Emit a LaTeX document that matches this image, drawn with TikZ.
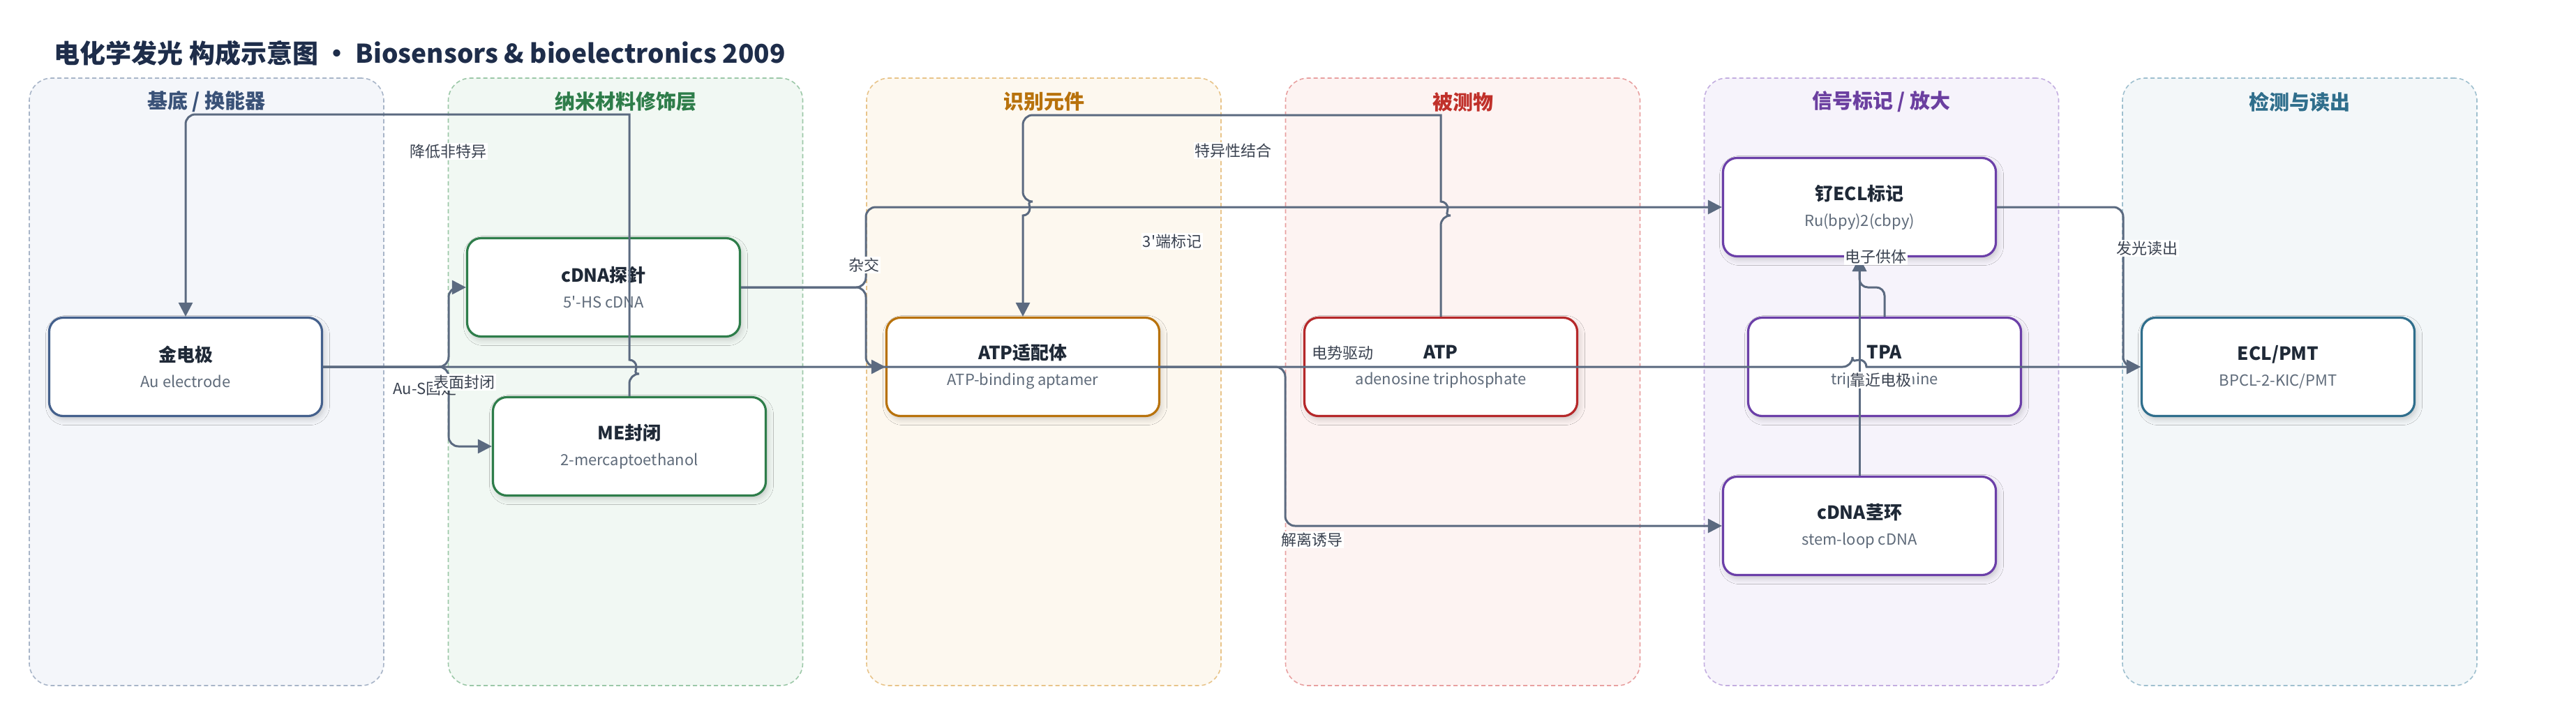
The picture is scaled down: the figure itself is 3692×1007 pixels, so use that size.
\documentclass[tikz,border=0pt]{standalone}
\usepackage{fontspec}
\setmainfont{Noto Sans CJK SC}[Ligatures=TeXOff]
\usetikzlibrary{arrows.meta,shadows.blur}
\definecolor{edgec}{HTML}{5B6A80}
\definecolor{labc}{HTML}{3A4250}
\definecolor{nodet}{HTML}{1F2937}
\definecolor{subc}{HTML}{5F6B7A}
\definecolor{titc}{HTML}{1E2D4A}
\definecolor{bF}{HTML}{F4F6FA}\definecolor{bD}{HTML}{A8B5C8}\definecolor{bT}{HTML}{3A5278}\definecolor{bN}{HTML}{44608C}
\definecolor{gF}{HTML}{F1F8F3}\definecolor{gD}{HTML}{9CC8A8}\definecolor{gT}{HTML}{2E7D4A}\definecolor{gN}{HTML}{2E7D4A}
\definecolor{oF}{HTML}{FDF8EF}\definecolor{oD}{HTML}{E8C48A}\definecolor{oT}{HTML}{B8720C}\definecolor{oN}{HTML}{B8720C}
\definecolor{rF}{HTML}{FDF3F2}\definecolor{rD}{HTML}{E8A0A0}\definecolor{rT}{HTML}{C0302A}\definecolor{rN}{HTML}{B5282A}
\definecolor{pF}{HTML}{F6F3FB}\definecolor{pD}{HTML}{C3AEE0}\definecolor{pT}{HTML}{6B3FA0}\definecolor{pN}{HTML}{6B3FA8}
\definecolor{tF}{HTML}{F3F7F9}\definecolor{tD}{HTML}{9FC0CF}\definecolor{tT}{HTML}{2F6E8C}\definecolor{tN}{HTML}{2F6E8C}
\tikzset{
  cluster/.style={rectangle, rounded corners=32pt, dash pattern=on 6pt off 4pt, line width=1.6pt,
    minimum width=508pt, minimum height=871pt, inner sep=0pt},
  ctitle/.style={font=\fontsize{29}{32}\selectfont\bfseries},
  box/.style={rectangle, draw, fill=white, rounded corners=20pt, line width=3.2pt,
    minimum width=391pt, minimum height=141pt, align=center, inner sep=0pt,
    blur shadow={shadow xshift=3pt, shadow yshift=-5pt, shadow blur radius=8pt, shadow opacity=18},
    font=\fontsize{22}{37}\selectfont, text=subc},
  conn/.style={draw=edgec, line width=3pt, rounded corners=14pt},
  arr/.style={-{Triangle[length=20pt,width=20pt]}},
  elabel/.style={fill=white, inner sep=1.5pt, font=\fontsize{22}{26}\selectfont, text=labc},
}
\newcommand{\ttl}[1]{{\fontsize{26}{37}\selectfont\bfseries\color{nodet}#1}}
\begin{document}
\begin{tikzpicture}[x=1pt,y=-1pt]
\fill[white] (0,0) rectangle (3692,1007);
\useasboundingbox (0,0) rectangle (3692,1007);

\node[anchor=west, font=\fontsize{37}{44}\selectfont\bfseries, text=titc] (title) at (74,76)
  {电化学发光 构成示意图 · Biosensors \& bioelectronics 2009};

% clusters
\node[cluster, draw=bD, fill=bF] (c1) at (296,547.5) {};
\node[cluster, draw=gD, fill=gF] (c2) at (896.5,547.5) {};
\node[cluster, draw=oD, fill=oF] (c3) at (1496,547.5) {};
\node[cluster, draw=rD, fill=rF] (c4) at (2096.5,547.5) {};
\node[cluster, draw=pD, fill=pF] (c5) at (2696.5,547.5) {};
\node[cluster, draw=tD, fill=tF] (c6) at (3296,547.5) {};
\node[ctitle, text=bT] (c1t) at (296,146) {基底 / 换能器};
\node[ctitle, text=gT] (c2t) at (896.5,146) {纳米材料修饰层};
\node[ctitle, text=oT] (c3t) at (1496,146) {识别元件};
\node[ctitle, text=rT] (c4t) at (2096.5,146) {被测物};
\node[ctitle, text=pT] (c5t) at (2696.5,146) {信号标记 / 放大};
\node[ctitle, text=tT] (c6t) at (3296,146) {检测与读出};

% nodes
\node[box, draw=bN] (au) at (266,526) {\ttl{金电极}\\Au electrode};
\node[box, draw=gN] (cdna) at (865,412) {\ttl{cDNA探針}\\5'-HS cDNA};
\node[box, draw=gN] (me) at (902,640) {\ttl{ME封闭}\\2-mercaptoethanol};
\node[box, draw=oN] (apt) at (1466,526) {\ttl{ATP适配体}\\ATP-binding aptamer};
\node[box, draw=rN] (atp) at (2065,526) {\ttl{ATP}\\adenosine triphosphate};
\node[box, draw=pN] (ru) at (2665,297) {\ttl{钌ECL标记}\\Ru(bpy)2(cbpy)};
\node[box, draw=pN] (tpa) at (2701,526) {\ttl{TPA}\\tripropylamine};
\node[box, draw=pN] (loop) at (2665,754) {\ttl{cDNA茎环}\\stem-loop cDNA};
\node[box, draw=tN] (pmt) at (3265,526) {\ttl{ECL/PMT}\\BPCL-2-KIC/PMT};

% junction coordinates
\coordinate (j1) at (643,526);
\coordinate (j2) at (1241,412);
\coordinate (j3) at (1842,526);
\coordinate (j4) at (3043,297);
\coordinate (j5) at (2665,412);

% connectors
\draw[conn, arr] (au.east) -- (2655,526) [sharp corners] arc[start angle=180, end angle=360, radius=10] -- (pmt.west);
\draw[conn, arr] (au.east) -- (j1) |- (cdna.west);
\draw[conn, arr] (au.east) -- (j1) |- (me.west);
\draw[conn, arr] (me.north) -- (902,536) [sharp corners] arc[start angle=90, end angle=-90, radius=10]
  -- (902,164) [rounded corners=14pt] -- (266,164) -- (au.north);
\draw[conn, arr] (cdna.east) -- (j2) |- (apt.west);
\draw[conn, arr] (cdna.east) -- (j2) |- (ru.west);
\draw[conn, arr] (atp.north) -- (2065,309) [sharp corners] arc[start angle=90, end angle=-90, radius=10]
  -- (2065,165) [rounded corners=14pt] -- (1466,165) -- (1466,289) [sharp corners]
  arc[start angle=-90, end angle=90, radius=10] -- (apt.north);
\draw[conn, arr] (apt.east) -- (j3) |- (loop.west);
\draw[conn, arr] (loop.north) -- (ru.south);
\draw[conn, arr, rounded corners=12pt] (tpa.north) |- (j5) -- (ru.south);
\draw[conn, arr] (ru.east) -- (j4) |- (pmt.west);

% edge labels
\node[elabel] (l1) at (642,217) {降低非特异};
\node[elabel, fill=none] (l2) at (609,557) {Au-S固定};
\node[elabel] (l3) at (665,548) {表面封闭};
\node[elabel] (l4) at (1238,380) {杂交};
\node[elabel] (l5) at (1680,346) {3'端标记};
\node[elabel] (l6) at (1767,216) {特异性结合};
\node[elabel, fill=none] (l7) at (1924,506) {电势驱动};
\node[elabel] (l8) at (1880,774) {解离诱导};
\node[elabel] (l9) at (2695,545) {靠近电极};
\node[elabel] (l10) at (2688,368) {电子供体};
\node[elabel] (l11) at (3077,356) {发光读出};
\end{tikzpicture}
\end{document}
